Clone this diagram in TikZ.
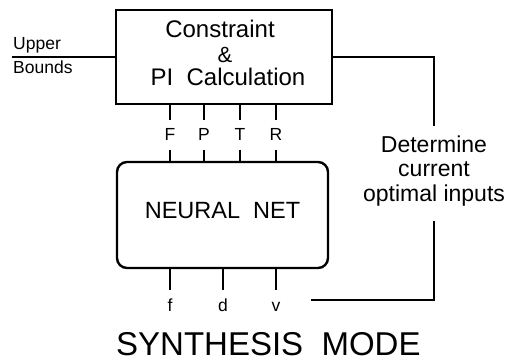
\documentclass[tikz,border=0pt]{standalone}
\usepackage{fontspec}
\setmainfont{Liberation Sans}
\begin{document}
\begin{tikzpicture}[x=1pt,y=-1pt,
  boxline/.style={line width=2.4pt},
  wire/.style={line width=2pt},
  tickline/.style={line width=2.5pt},
  sig/.style={font=\fontsize{17.5}{20}\selectfont, text height=12.5pt, text depth=0pt, inner xsep=1pt, inner ysep=8.5pt, anchor=base},
  bigtxt/.style={font=\fontsize{24}{28}\selectfont, anchor=base, inner sep=0pt},
  small/.style={font=\fontsize{17.5}{20}\selectfont, anchor=base west, inner sep=0pt}
]
\useasboundingbox (0,0) rectangle (518,363);

% top box
\node[draw, boxline, minimum width=216pt, minimum height=94pt, inner sep=0pt] (calc) at (224,57) {};
\node[bigtxt] (t1) at (220,38) {Constraint};
\node[bigtxt, font=\fontsize{22}{26}\selectfont] (t2) at (225,62.5) {\&};
\node[bigtxt] (t3) at (228,86) {PI~~Calculation};

% upper bounds
\coordinate (ubend) at (12,57);
\draw[wire] (ubend) -- (calc.west);
\node[small] (up) at (13,50) {Upper};
\node[small] (bd) at (13,74) {Bounds};

% neural net
\node[draw, boxline, rounded corners=10pt, minimum width=211pt, minimum height=106pt,
      font=\fontsize{23.5}{27}\selectfont, text depth=9pt] (net) at (222.5,215) {NEURAL~~NET};

% input signals
\node[sig] (lF) at (170,141) {F};
\node[sig] (lP) at (204,141) {P};
\node[sig] (lT) at (240,141) {T};
\node[sig] (lR) at (276,141) {R};
\foreach \n in {lF,lP,lT,lR}{
  \draw[tickline] (calc.south -| \n) -- (\n.north);
  \draw[tickline] (\n.south) -- (\n.south |- net.north);
}

% outputs
\node[sig] (lf) at (170,311) {f};
\node[sig] (ld) at (223,311) {d};
\node[sig] (lv) at (276,311) {v};
\foreach \n in {lf,ld,lv}{
  \draw[tickline] (net.south -| \n) -- (\n.north);
}

% feedback
\node[font=\fontsize{23}{24.5}\selectfont, align=center, inner xsep=2pt, inner ysep=10pt] (det) at (434,171)
  {Determine\\current\\optimal inputs};
\coordinate (vend) at (311,300);
\draw[wire] (calc.east) -| (det.north);
\draw[wire, shorten <=5pt] (det.south) |- (vend);

% title
\node[font=\fontsize{33}{38}\selectfont, anchor=base west, inner sep=0pt] (title) at (116,355) {SYNTHESIS~~MODE};
\end{tikzpicture}
\end{document}
